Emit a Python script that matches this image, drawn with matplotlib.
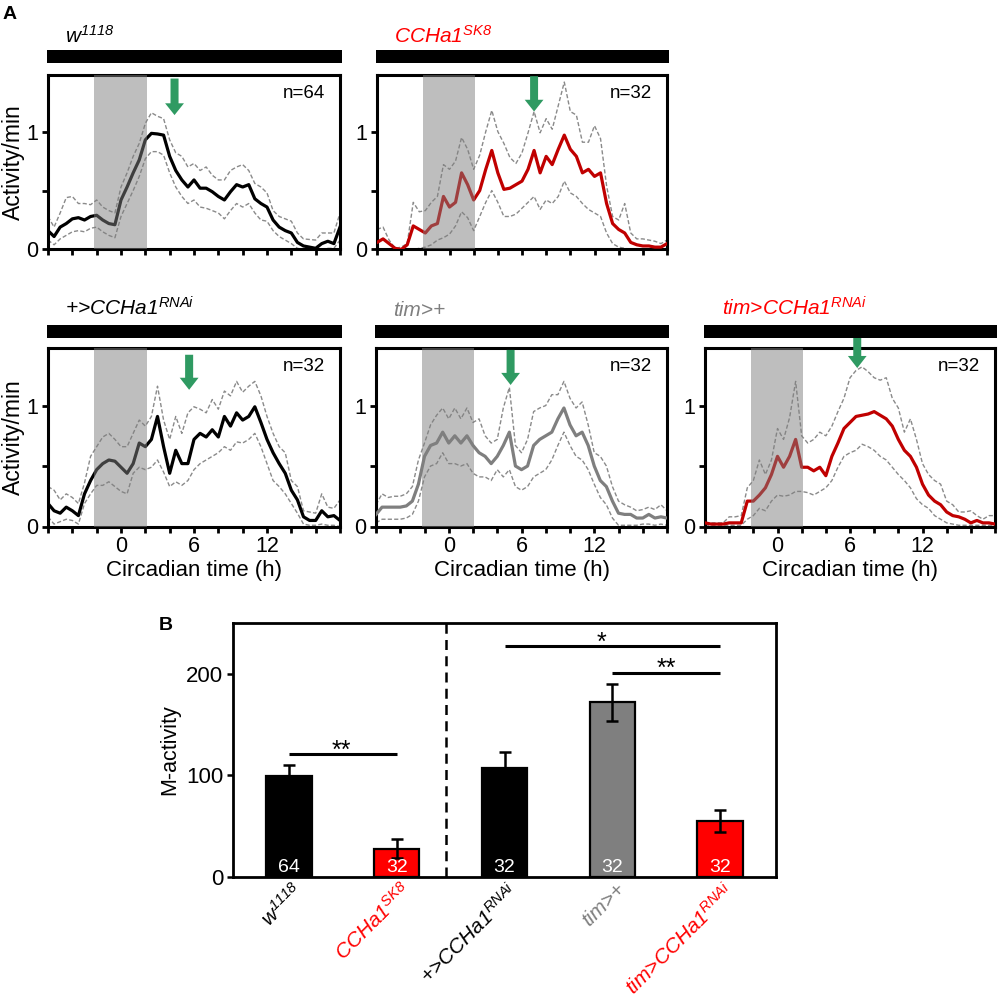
import numpy as np
import matplotlib
matplotlib.use('Agg')
import matplotlib.pyplot as plt
from matplotlib.patches import Rectangle
import matplotlib.transforms as mtransforms

plt.rcParams['font.family'] = ['Liberation Sans', 'DejaVu Sans']
plt.rcParams['mathtext.fontset'] = 'custom'
plt.rcParams['mathtext.rm'] = 'Liberation Sans:italic'
plt.rcParams['mathtext.it'] = 'Liberation Sans:italic'
plt.rcParams['mathtext.bf'] = 'Liberation Sans:bold'

# ---------------- data ----------------
hours = np.arange(-6, 18.5, 0.5)

w1118_mean = [0.16,0.11,0.19,0.22,0.26,0.27,0.25,0.28,0.29,0.25,0.22,0.21,
              0.42,0.53,0.65,0.76,0.93,0.985,0.98,0.97,0.79,0.67,0.59,0.53,0.59,0.52,0.52,0.49,0.45,0.42,
              0.49,0.55,0.53,0.55,0.43,0.39,0.36,0.25,0.19,0.16,0.14,0.06,0.03,0.02,0.01,0.05,0.07,0.05,0.19]
w1118_upper = [0.28,0.19,0.31,0.44,0.45,0.39,0.39,0.38,0.42,0.36,0.33,0.31,
               0.53,0.65,0.79,0.90,1.07,1.16,1.13,1.11,0.93,0.82,0.79,0.70,0.73,0.67,0.70,0.63,0.59,0.59,
               0.67,0.70,0.72,0.67,0.56,0.53,0.48,0.33,0.28,0.26,0.24,0.14,0.09,0.085,0.08,0.14,0.14,0.14,0.31]
w1118_lower = [0.08,0.04,0.09,0.12,0.15,0.16,0.15,0.18,0.19,0.15,0.12,0.10,
               0.28,0.39,0.50,0.62,0.77,0.83,0.83,0.80,0.65,0.53,0.45,0.39,0.42,0.36,0.35,0.33,0.31,0.26,
               0.33,0.39,0.36,0.39,0.31,0.25,0.24,0.16,0.11,0.08,0.05,0.01,0.0,0.0,0.0,0.0,0.01,0.01,0.08]

sk8_mean = [0.06,0.09,0.05,0.01,0.0,0.04,0.20,0.17,0.14,0.20,0.22,0.45,
            0.36,0.40,0.65,0.55,0.42,0.50,0.68,0.84,0.65,0.51,0.52,0.55,0.58,0.68,0.84,0.65,0.79,0.72,
            0.85,0.97,0.85,0.79,0.65,0.68,0.62,0.65,0.39,0.22,0.17,0.14,0.06,0.04,0.03,0.03,0.02,0.02,0.05]
sk8_upper = [0.17,0.19,0.08,0.01,0.02,0.05,0.40,0.32,0.33,0.40,0.45,0.72,
             0.68,0.75,0.95,0.85,0.68,0.80,1.00,1.18,1.00,0.90,0.78,0.73,0.82,0.99,1.17,0.99,1.11,1.02,
             1.22,1.42,1.17,1.14,0.91,0.91,1.05,0.94,0.54,0.28,0.25,0.39,0.14,0.09,0.09,0.08,0.07,0.05,0.08]
sk8_lower = [0.0,0.0,0.0,0.0,0.0,0.0,0.0,0.01,0.02,0.04,0.08,0.10,
             0.13,0.20,0.32,0.27,0.16,0.28,0.40,0.50,0.40,0.28,0.28,0.30,0.35,0.40,0.45,0.34,0.42,0.39,
             0.45,0.58,0.48,0.45,0.39,0.34,0.31,0.28,0.14,0.05,0.02,0.01,0.0,0.0,0.0,0.0,0.0,0.0,0.01]

rnai_mean = [0.19,0.13,0.11,0.16,0.13,0.09,0.27,0.38,0.47,0.52,0.55,0.54,
             0.49,0.44,0.52,0.69,0.66,0.72,0.91,0.66,0.44,0.63,0.52,0.52,0.72,0.77,0.74,0.80,0.74,0.91,
             0.83,0.94,0.88,0.91,0.99,0.86,0.72,0.61,0.52,0.44,0.30,0.22,0.08,0.05,0.05,0.13,0.08,0.09,0.05]
rnai_upper = [0.33,0.30,0.22,0.27,0.24,0.19,0.36,0.58,0.66,0.74,0.77,0.72,
              0.66,0.66,0.77,0.88,0.83,0.91,1.16,0.88,0.72,0.91,0.77,0.94,0.99,0.97,0.94,1.05,0.97,1.12,
              1.08,1.20,1.11,1.16,1.20,1.08,0.91,0.77,0.66,0.61,0.38,0.33,0.13,0.12,0.11,0.27,0.16,0.15,0.22]
rnai_lower = [0.08,0.02,0.04,0.06,0.05,0.02,0.19,0.27,0.34,0.34,0.37,0.33,
              0.29,0.27,0.44,0.49,0.47,0.49,0.55,0.45,0.33,0.37,0.34,0.38,0.47,0.52,0.55,0.58,0.61,0.66,
              0.63,0.70,0.69,0.72,0.77,0.66,0.52,0.38,0.33,0.27,0.19,0.11,0.02,0.01,0.01,0.02,0.01,0.01,0.0]

tim_mean = [0.10,0.16,0.16,0.16,0.16,0.17,0.21,0.35,0.58,0.67,0.69,0.78,
            0.69,0.75,0.69,0.75,0.67,0.61,0.58,0.52,0.58,0.67,0.78,0.50,0.47,0.50,0.67,0.72,0.75,0.78,
            0.89,0.98,0.84,0.75,0.78,0.67,0.50,0.38,0.33,0.21,0.11,0.10,0.10,0.07,0.07,0.10,0.07,0.08,0.07]
tim_upper = [0.18,0.27,0.24,0.25,0.25,0.27,0.33,0.55,0.69,0.84,0.92,0.98,
             0.89,0.98,0.89,0.98,0.86,0.89,0.75,0.69,0.72,0.98,1.15,0.67,0.61,0.72,0.95,0.98,1.00,1.09,
             1.09,1.20,1.06,0.98,1.03,0.84,0.61,0.58,0.50,0.33,0.21,0.18,0.16,0.13,0.14,0.16,0.14,0.18,0.13]
tim_lower = [0.03,0.06,0.06,0.06,0.06,0.07,0.10,0.21,0.41,0.50,0.52,0.61,
             0.52,0.52,0.50,0.52,0.44,0.41,0.41,0.38,0.47,0.41,0.47,0.33,0.30,0.33,0.41,0.44,0.47,0.55,
             0.67,0.78,0.67,0.58,0.55,0.47,0.35,0.24,0.18,0.07,0.01,0.01,0.01,0.01,0.02,0.02,0.01,0.02,0.01]

timr_mean = [0.03,0.02,0.02,0.02,0.03,0.03,0.03,0.21,0.21,0.26,0.32,0.43,
             0.58,0.49,0.58,0.72,0.49,0.49,0.46,0.49,0.42,0.58,0.69,0.81,0.86,0.91,0.92,0.93,0.95,0.92,
             0.89,0.83,0.72,0.63,0.58,0.49,0.35,0.26,0.21,0.18,0.12,0.09,0.08,0.06,0.03,0.05,0.03,0.03,0.02]
timr_upper = [0.03,0.03,0.03,0.03,0.08,0.08,0.09,0.32,0.38,0.55,0.43,0.55,
              0.81,0.72,0.90,1.20,0.75,0.69,0.72,0.78,0.75,0.83,0.95,1.06,1.23,1.29,1.32,1.28,1.23,1.21,
              1.23,1.06,0.98,0.78,0.89,0.72,0.52,0.43,0.38,0.35,0.21,0.18,0.12,0.12,0.13,0.09,0.06,0.09,0.09]
timr_lower = [0.01,0.01,0.01,0.01,0.01,0.01,0.01,0.06,0.09,0.15,0.13,0.21,
              0.26,0.25,0.26,0.29,0.29,0.28,0.26,0.29,0.32,0.38,0.49,0.58,0.61,0.63,0.68,0.66,0.63,0.58,
              0.55,0.49,0.43,0.38,0.32,0.23,0.18,0.15,0.09,0.06,0.03,0.02,0.01,0.01,0.01,0.01,0.01,0.01,0.01]

panel_titles = ['w$^{1118}$', 'CCHa1$^{SK8}$', '+>CCHa1$^{RNAi}$',
                'tim>+', 'tim>CCHa1$^{RNAi}$']
panel_n = ['n=64', 'n=32', 'n=32', 'n=32', 'n=32']
arrow_time = [4.4, 7.0, 5.6, 5.1, 6.6]
arrow_top = [1.45, 1.47, 1.42, 1.46, 1.62]
arrow_bottom = [1.14, 1.17, 1.13, 1.17, 1.31]
dark_start, dark_end = -2.2, 2.1
x_ticks = list(range(-6, 19, 2))
x_tick_labels = ['', '', '', '0', '', '', '6', '', '', '12', '', '', '']

bar_labels = ['w$^{1118}$', 'CCHa1$^{SK8}$', '+>CCHa1$^{RNAi}$',
              'tim>+', 'tim>CCHa1$^{RNAi}$']
bar_means = [99, 28, 107, 172, 55]
bar_sem = [11, 9, 16, 18, 11]
bar_n = ['64', '32', '32', '32', '32']
sig_pairs = [(0, 1, 121, '**', 0.49), (2, 4, 227, '*', 2.9), (3, 4, 201, '**', 3.5)]

# ---------------- styles ----------------
means = [w1118_mean, sk8_mean, rnai_mean, tim_mean, timr_mean]
uppers = [w1118_upper, sk8_upper, rnai_upper, tim_upper, timr_upper]
lowers = [w1118_lower, sk8_lower, rnai_lower, tim_lower, timr_lower]
line_colors = ['black', '#c00000', 'black', '#7f7f7f', '#c00000']
title_colors = ['black', '#ff0000', 'black', '#7f7f7f', '#ff0000']
bar_colors = ['black', '#ff0000', 'black', '#7f7f7f', '#ff0000']
label_colors = ['black', '#ff0000', 'black', '#7f7f7f', '#ff0000']
green = '#2f9a62'
sem_color = '#8a8a8a'

W, H = 1000, 1001
fig = plt.figure(figsize=(10, 10.01), dpi=100)

def fx(px):
    return px / W

def fy(py):
    return 1 - py / H

# left, top, right, bottom in pixels
boxes = [(48, 75, 340, 249.5), (377, 75, 667, 249.5),
         (48, 347.5, 340, 526.5), (376, 347.5, 667, 526.5), (705, 347.5, 995, 526.5)]
bar_bottom_px = [63, 63, 338, 338, 338]
title_base_px = [43, 43, 316, 316, 316]

for i in range(5):
    l, t, r, b = boxes[i]
    ax = fig.add_axes([fx(l), fy(b), (r - l) / W, (b - t) / H])
    ax.plot(hours, uppers[i], color=sem_color, lw=1.0, ls=(0, (3, 1.6)), zorder=2)
    ax.plot(hours, lowers[i], color=sem_color, lw=1.0, ls=(0, (3, 1.6)), zorder=2)
    ax.plot(hours, means[i], color=line_colors[i], lw=2.3, zorder=3)
    ax.axvspan(dark_start, dark_end, color='#7f7f7f', alpha=0.5, lw=0, zorder=4)
    ax.set_xlim(-6, 18)
    ax.set_ylim(0, 1.48)
    ax.set_xticks(x_ticks)
    if i >= 2:
        ax.set_xticklabels(x_tick_labels)
        ax.set_xlabel('Circadian time (h)', fontsize=16, labelpad=2)
    else:
        ax.set_xticklabels([''] * len(x_ticks))
    ax.set_yticks([0, 0.5, 1])
    ax.set_yticklabels(['0', '', '1'])
    if i in (0, 2):
        ax.set_ylabel('Activity/min', fontsize=16.5, labelpad=1)
    for s in ax.spines.values():
        s.set_linewidth(2.2)
    ax.tick_params(direction='out', length=4, width=2, labelsize=15.5, pad=3)
    ax.text(16.8, 1.32, panel_n[i], ha='right', va='center', fontsize=13.5)
    ax.arrow(arrow_time[i], arrow_top[i], 0, arrow_bottom[i] - arrow_top[i],
             width=0.66, head_width=1.55, head_length=0.1, length_includes_head=True,
             color=green, lw=0, clip_on=False, zorder=10)
    # black (constant darkness) bar above panel
    fig.add_artist(Rectangle((fx(l - 1.5), fy(bar_bottom_px[i])), (r - l + 3) / W, 13 / H,
                             transform=fig.transFigure, color='black', lw=0, zorder=1))
    fig.text(fx(l + 17), fy(title_base_px[i]), panel_titles[i], color=title_colors[i],
             fontsize=15, style='italic', va='baseline', ha='left')

fig.text(fx(3), fy(6), 'A', fontsize=14, fontweight='bold', va='top', ha='left')
fig.text(fx(159), fy(617), 'B', fontsize=14, fontweight='bold', va='top', ha='left')

# ---------------- bar chart ----------------
axb = fig.add_axes([fx(233), fy(877), (776 - 233) / W, (877 - 623) / H])
xpos = np.arange(len(bar_means))
axb.bar(xpos, bar_means, width=0.42, color=bar_colors, edgecolor='black', linewidth=1.6,
        yerr=bar_sem, capsize=4, error_kw=dict(elinewidth=1.8, capthick=1.8, ecolor='black'),
        zorder=3)
axb.set_xlim(-0.52, 4.52)
axb.set_ylim(0, 250)
axb.set_yticks([0, 100, 200])
axb.tick_params(axis='y', direction='out', length=4, width=1.8, labelsize=16, pad=3)
axb.tick_params(axis='x', length=0, pad=2)
axb.set_xticks(xpos)
axb.set_xticklabels(bar_labels, rotation=45, ha='right', va='top', rotation_mode='anchor',
                    fontsize=15, style='italic')
offset = mtransforms.ScaledTranslation(3 / 100, 0, fig.dpi_scale_trans)
for lab, c in zip(axb.get_xticklabels(), label_colors):
    lab.set_color(c)
    lab.set_transform(lab.get_transform() + offset)
for s in axb.spines.values():
    s.set_linewidth(2.0)
axb.set_ylabel('M-activity', fontsize=15.5, labelpad=4)
axb.axvline(1.46, color='black', lw=1.8, ls=(0, (4, 2.5)), zorder=2)
for xi, n in zip(xpos, bar_n):
    axb.text(xi, 4.5, n, color='white', ha='center', va='baseline', fontsize=14, zorder=5)
for x0, x1, y, star, xs in sig_pairs:
    axb.plot([x0, x1], [y, y], color='black', lw=2.2, solid_capstyle='butt')
    axb.text(xs, y - 3.5, star, ha='center', va='baseline', fontsize=18)

fig.savefig('out.png', dpi=100)
